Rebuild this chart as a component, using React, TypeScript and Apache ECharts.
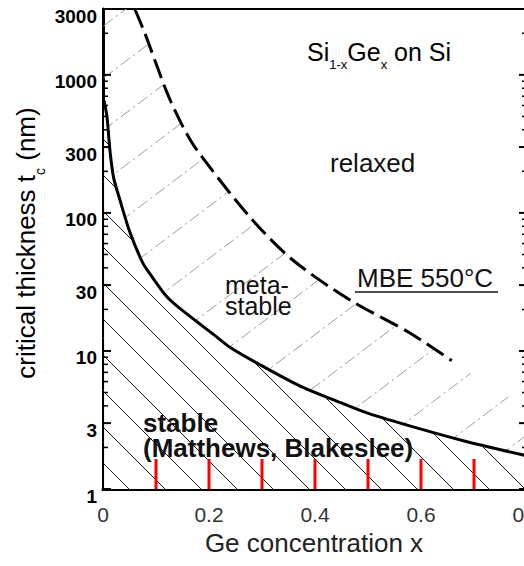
import React, { useEffect, useRef } from "react";
import * as echarts from "echarts";

// Axis ranges
const X_MIN = 0;
const X_MAX = 0.8;
const Y_MIN = 1;
const Y_MAX = 3000;

// Tick positions along the Ge fraction axis
const xTicks = [0.1, 0.2, 0.3, 0.4, 0.5, 0.6, 0.7];

// Labelled (long) ticks and unlabelled (short) ticks of the log thickness axis, nm
const yTickLabels = [1, 3, 10, 30, 100, 300, 1000, 3000];
const yMinorTicks = [
  2, 4, 5, 6, 7, 8, 9,
  20, 40, 50, 60, 70, 80, 90,
  200, 400, 500, 600, 700, 800, 900,
  2000,
];

// Equilibrium critical thickness (Matthews–Blakeslee), [x, t_c in nm]
const stableLimit: [number, number][] = [
  [0.002, 650], [0.0075, 497], [0.013, 286], [0.02, 180], [0.032, 124],
  [0.051, 72], [0.075, 43.4], [0.089, 36], [0.121, 24.6], [0.151, 19.5],
  [0.215, 12.6], [0.24, 10.6], [0.3, 7.8], [0.372, 5.57], [0.45, 4.2],
  [0.498, 3.56], [0.592, 2.77], [0.687, 2.2], [0.8, 1.74],
];

// Metastable limit for MBE growth at 550 °C, [x, t_c in nm]
const mbe550: [number, number][] = [
  [0.06, 3000], [0.079, 2000], [0.121, 740], [0.151, 420], [0.177, 286],
  [0.277, 93.5], [0.358, 45.6], [0.466, 23.4], [0.579, 13.5], [0.658, 8.5],
];

// Upper edge of the metastable shading, [x, t_c in nm]
const metastableCeiling: [number, number][] = [
  [0, 3000], [0.06, 3000], [0.079, 2000], [0.121, 740], [0.151, 420],
  [0.177, 286], [0.277, 93.5], [0.358, 45.6], [0.466, 23.4], [0.579, 13.5],
  [0.658, 8.5], [0.73, 5.6], [0.8, 3.9],
];

const SANS = "'Liberation Sans', Arial, Helvetica, sans-serif";
const NARROW = "'Liberation Sans Narrow', 'Arial Narrow', 'Liberation Sans', sans-serif";

type Pattern = {
  image: string;
  repeat: "repeat";
  imageWidth: number;
  imageHeight: number;
};

// Diagonal hatch tile rendered to a data URL and used as an area fill
function makeHatch(
  w: number,
  h: number,
  draw: (ctx: CanvasRenderingContext2D) => void
): Pattern {
  const c = document.createElement("canvas");
  c.width = w;
  c.height = h;
  const ctx = c.getContext("2d") as CanvasRenderingContext2D;
  draw(ctx);
  return { image: c.toDataURL("image/png"), repeat: "repeat", imageWidth: w, imageHeight: h };
}

const plainText = (x: number, y: number, text: string, fontSize: number, bold = false) => ({
  type: "text",
  x,
  y,
  z: 100,
  style: {
    text,
    fontFamily: SANS,
    fontSize,
    fontWeight: bold ? "bold" : "normal",
    fill: "#111",
    align: "left",
    verticalAlign: "middle",
    textAlign: "left",
    textVerticalAlign: "middle",
  },
});

const tickLine = (x1: number, y1: number, x2: number, y2: number, lineWidth: number, stroke = "#000") => ({
  type: "line",
  z: 100,
  silent: true,
  shape: { x1, y1, x2, y2 },
  style: { stroke, lineWidth },
});

export default function App() {
  const ref = useRef<HTMLDivElement>(null);

  useEffect(() => {
    if (!ref.current) return;
    const chart = echarts.init(ref.current, undefined, { renderer: "svg" });

    // stable region: thin dark "\" lines on white
    const stableHatch = makeHatch(36, 36, (ctx) => {
      ctx.fillStyle = "#ffffff";
      ctx.fillRect(0, 0, 36, 36);
      ctx.strokeStyle = "#1a1a1a";
      ctx.lineWidth = 1;
      ctx.beginPath();
      ctx.moveTo(0, 0);
      ctx.lineTo(36, 36);
      ctx.stroke();
    });

    // metastable region: light grey dash-dot "/" lines
    const mw = 69;
    const mh = 52;
    const diag = Math.sqrt(mw * mw + mh * mh) / 4;
    const metaHatch = makeHatch(mw, mh, (ctx) => {
      ctx.strokeStyle = "#9c9c9c";
      ctx.lineWidth = 1;
      ctx.setLineDash([diag * 0.55, diag * 0.17, diag * 0.11, diag * 0.17]);
      ctx.beginPath();
      ctx.moveTo(0, mh);
      ctx.lineTo(mw, 0);
      ctx.stroke();
    });

    const subRich = {
      a: { fontSize: 25, fontFamily: SANS, lineHeight: 30, verticalAlign: "top", color: "#111" },
      s: { fontSize: 13, fontFamily: SANS, lineHeight: 14, verticalAlign: "top", padding: [19, 0, 0, 0], color: "#111" },
    };

    const annotations: any[] = [
      {
        type: "text",
        x: 28,
        y: 243,
        z: 100,
        rotation: Math.PI / 2,
        style: {
          text: "{a|critical thickness t}{s|c}{a| (nm)}",
          rich: {
            a: { fontSize: 26, fontFamily: SANS, lineHeight: 30, verticalAlign: "top", color: "#222" },
            s: { fontSize: 14, fontFamily: SANS, lineHeight: 14, verticalAlign: "top", padding: [20, 0, 0, 0], color: "#222" },
          },
          align: "center",
          verticalAlign: "middle",
          textAlign: "center",
          textVerticalAlign: "middle",
        },
      },
      {
        type: "text",
        x: 314,
        y: 543,
        z: 100,
        style: {
          text: "Ge concentration x",
          fontFamily: SANS,
          fontSize: 26,
          fill: "#222",
          align: "center",
          verticalAlign: "middle",
          textAlign: "center",
          textVerticalAlign: "middle",
        },
      },
      {
        type: "text",
        x: 307,
        y: 39,
        z: 100,
        style: {
          text: "{a|Si}{s|1-x}{a|Ge}{s|x}{a| on Si}",
          rich: subRich,
          align: "left",
          verticalAlign: "top",
          textAlign: "left",
          textVerticalAlign: "top",
        },
      },
      plainText(330, 163, "relaxed", 26),
      plainText(225, 285, "meta-", 25),
      plainText(225, 306, "stable", 25),
      plainText(357, 278, "MBE 550°C", 26),
      {
        type: "line",
        z: 100,
        shape: { x1: 355, y1: 292, x2: 498, y2: 292 },
        style: { stroke: "#111", lineWidth: 1.5 },
      },
      plainText(143, 423, "stable", 26, true),
      plainText(143, 448, "(Matthews, Blakeslee)", 26, true),
    ];

    const option: any = {
      animation: false,
      grid: {
        left: 103,
        top: 9,
        right: -3,
        bottom: 77,
        containLabel: false,
        outerBoundsMode: "none",
      },
      xAxis: [
        {
          type: "value",
          min: X_MIN,
          max: X_MAX,
          interval: 0.2,
          position: "bottom",
          axisLine: { onZero: false, lineStyle: { color: "#000", width: 3 } },
          axisTick: { show: false },
          splitLine: { show: false },
          axisLabel: {
            margin: 15,
            fontFamily: NARROW,
            fontSize: 21,
            color: "#333",
            showMinLabel: true,
            showMaxLabel: true,
            hideOverlap: false,
          },
        },
        {
          type: "value",
          min: X_MIN,
          max: X_MAX,
          position: "top",
          axisLine: { onZero: false, lineStyle: { color: "#000", width: 2 } },
          axisTick: { show: false },
          axisLabel: { show: false },
          splitLine: { show: false },
        },
      ],
      yAxis: [
        {
          type: "log",
          logBase: 10,
          min: Y_MIN,
          max: Y_MAX,
          position: "left",
          axisLine: { show: true, onZero: false, lineStyle: { color: "#000", width: 3 } },
          axisTick: { show: false },
          axisLabel: { show: false },
          splitLine: { show: false },
        },
        {
          type: "log",
          logBase: 10,
          min: Y_MIN,
          max: Y_MAX,
          position: "right",
          axisLine: { show: true, onZero: false, lineStyle: { color: "#000", width: 2 } },
          axisTick: { show: false },
          axisLabel: { show: false },
          splitLine: { show: false },
        },
      ],
      series: [
        {
          name: "metastable",
          type: "line",
          data: metastableCeiling,
          symbol: "none",
          smooth: 0.3,
          silent: true,
          z: 1,
          lineStyle: { width: 0, opacity: 0 },
          areaStyle: { color: metaHatch, origin: "start", opacity: 1 },
        },
        {
          name: "stable",
          type: "line",
          data: stableLimit,
          symbol: "none",
          smooth: 0.3,
          silent: true,
          z: 2,
          lineStyle: { color: "#000", width: 3 },
          areaStyle: { color: stableHatch, origin: "start", opacity: 1 },
        },
        {
          name: "MBE 550°C",
          type: "line",
          data: mbe550,
          symbol: "none",
          smooth: 0.3,
          silent: true,
          z: 3,
          lineStyle: { color: "#000", width: 3, type: [20, 7] },
        },
      ],
      graphic: annotations,
    };

    chart.setOption(option);

    // Ticks and thickness labels, placed through the axes' own scales
    const finder = { xAxisIndex: 0, yAxisIndex: 0 };
    const toPx = (x: number, y: number) => chart.convertToPixel(finder, [x, y]) as number[];
    const ticks: any[] = [];
    yTickLabels.forEach((v) => {
      const L = toPx(X_MIN, v);
      const R = toPx(X_MAX, v);
      ticks.push(tickLine(L[0], L[1], L[0] + 8, L[1], 2));
      ticks.push(tickLine(R[0], R[1], R[0] - 8, R[1], 2));
      ticks.push({
        type: "text",
        z: 100,
        silent: true,
        x: L[0] - 6,
        y: L[1] + 7,
        style: {
          text: String(v),
          align: "right",
          verticalAlign: "middle",
          textAlign: "right",
          textVerticalAlign: "middle",
          fontFamily: SANS,
          fontSize: 19,
          fontWeight: "bold",
          fill: "#000",
        },
      });
    });
    yMinorTicks.forEach((v) => {
      const L = toPx(X_MIN, v);
      const R = toPx(X_MAX, v);
      ticks.push(tickLine(L[0], L[1], L[0] + 5, L[1], 1.5));
      ticks.push(tickLine(R[0], R[1], R[0] - 5, R[1], 1.5));
    });
    xTicks.forEach((v) => {
      const B = toPx(v, Y_MIN);
      ticks.push(tickLine(B[0], B[1], B[0], B[1] - 30, 3, "red"));
    });

    chart.setOption({ graphic: [...annotations, ...ticks] });

    return () => {
      chart.dispose();
    };
  }, []);

  return (
    <div
      ref={ref}
      style={{ position: "absolute", left: 0, top: 0, width: 524, height: 566, background: "#fff" }}
    />
  );
}
